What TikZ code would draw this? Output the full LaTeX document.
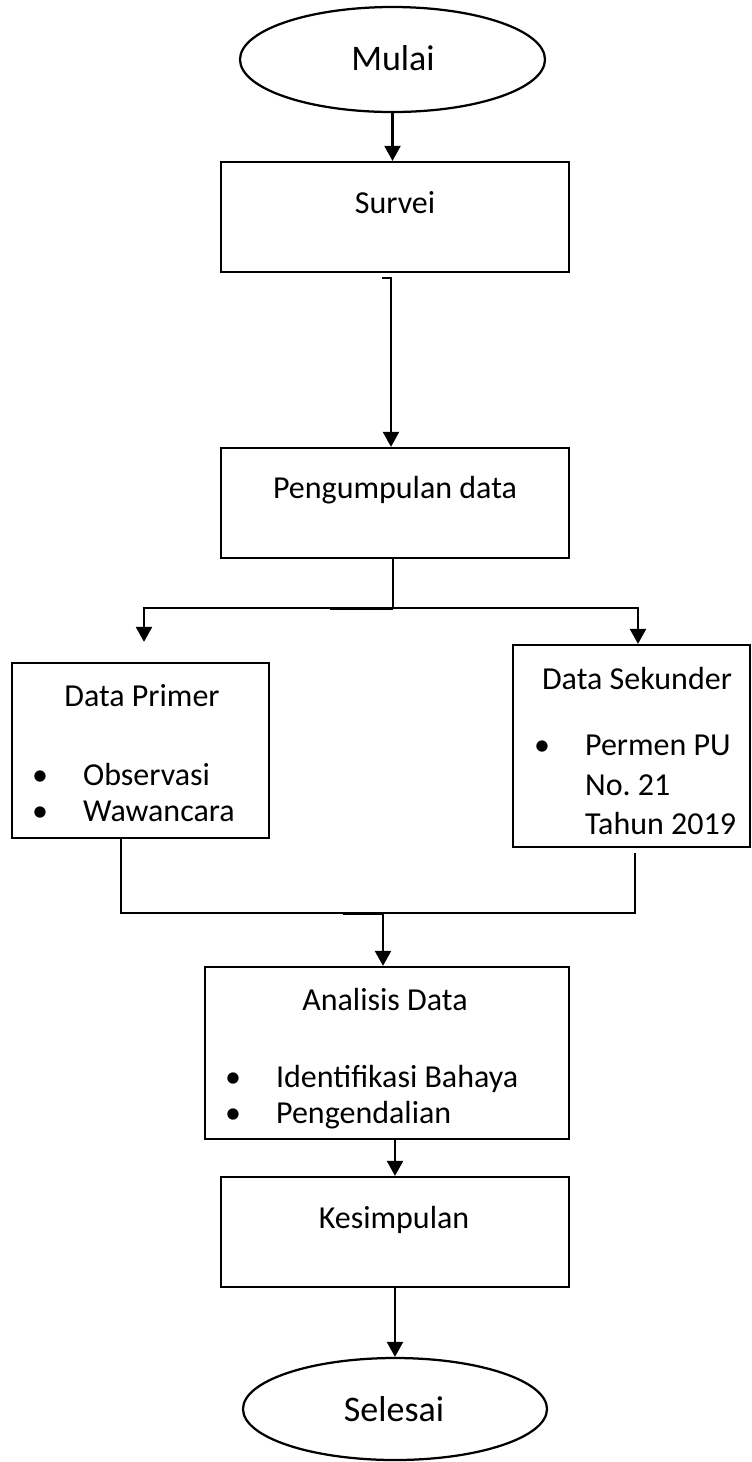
\documentclass[tikz,border=0pt]{standalone}
\usepackage{fontspec}
\setmainfont{Carlito}
\usetikzlibrary{shapes.geometric,arrows.meta}
\begin{document}
\begin{tikzpicture}[x=0.4pt,y=-0.4pt,
  line width=0.9pt,
  boxnode/.style={draw,rectangle,inner sep=0pt,line width=0.9pt},
  ovalnode/.style={draw,ellipse,inner sep=0pt,line width=0.9pt},
  txt/.style={inner sep=0pt,anchor=base,font=\fontsize{12.8pt}{14pt}\selectfont},
  txtl/.style={inner sep=0pt,anchor=base west,font=\fontsize{12.8pt}{14pt}\selectfont},
  bigtxt/.style={inner sep=0pt,anchor=base,font=\fontsize{14.4pt}{16pt}\selectfont},
  arr/.style={-{Triangle[width=6.4pt,length=6pt]},line width=0.9pt}]
\useasboundingbox (0,0) rectangle (752,1462);
% shapes
\node[ovalnode,minimum width=122pt,minimum height=42pt] (ml) at (392.5,59.5) {};
\node[boxnode,minimum width=139.2pt,minimum height=44pt] (sv) at (395,217) {};
\node[boxnode,minimum width=139.2pt,minimum height=44pt] (pg) at (395,503) {};
\node[boxnode,minimum width=102.8pt,minimum height=70pt] (dp) at (140.5,750.5) {};
\node[boxnode,minimum width=94.8pt,minimum height=80.8pt] (ds) at (631.5,746) {};
\node[boxnode,minimum width=145.6pt,minimum height=68.8pt] (an) at (387,1053) {};
\node[boxnode,minimum width=139.2pt,minimum height=44pt] (ks) at (395,1232) {};
\node[ovalnode,minimum width=121.6pt,minimum height=40.8pt] (sl) at (395,1409) {};
% texts
\node[bigtxt] (tml) at (393,70) {Mulai};
\node[txt] (tsv) at (395,213) {Survei};
\node[txt] (tpg) at (395,498) {Pengumpulan data};
\node[txt] (tdp) at (142,706) {Data Primer};
\node[txt] (bdp1) at (40,785) {•};
\node[txtl] (tdp1) at (82,785) {Observasi};
\node[txt] (bdp2) at (40,821) {•};
\node[txtl] (tdp2) at (82,821) {Wawancara};
\node[txt] (tds) at (637,689) {Data Sekunder};
\node[txt] (bds1) at (542,755) {•};
\node[txtl] (tds1) at (584,755) {Permen PU};
\node[txtl] (tds2) at (584,795) {No.\ 21};
\node[txtl] (tds3) at (584,834) {Tahun 2019};
\node[txt] (tan) at (385,1010) {Analisis Data};
\node[txt] (ban1) at (233,1087) {•};
\node[txtl] (tan1) at (275,1087) {Identifikasi Bahaya};
\node[txt] (ban2) at (233,1123) {•};
\node[txtl] (tan2) at (275,1123) {Pengendalian};
\node[txt] (tks) at (394,1228) {Kesimpulan};
\node[bigtxt] (tsl) at (394,1421) {Selesai};
% connectors
\draw[arr] (ml.south) -- (ml.south |- sv.north);
\coordinate (s1) at (382,278);
\draw[arr] (s1) -- ++(9,0) coordinate (s2) -- (s2 |- pg.north);
\coordinate (j1) at (393,608);
\draw (pg.south -| j1) -- (j1);
\draw[arr] (j1) -| ([xshift=1.4pt,yshift=8pt]dp.north);
\draw[arr] (j1) -| ([xshift=2.6pt]ds.north);
\draw (330,609) -- (393,609);
\coordinate (j2) at (383,913);
\draw ([xshift=-7.8pt]dp.south) |- (j2);
\draw ([xshift=1.4pt,yshift=-2pt]ds.south) |- (j2);
\draw (343,914) -- (383,914);
\draw[arr] (j2) -- (j2 |- an.north);
\draw[arr] (an.south -| ks.north) -- (ks.north);
\draw[arr] (ks.south) -- (sl.north);
\end{tikzpicture}
\end{document}
